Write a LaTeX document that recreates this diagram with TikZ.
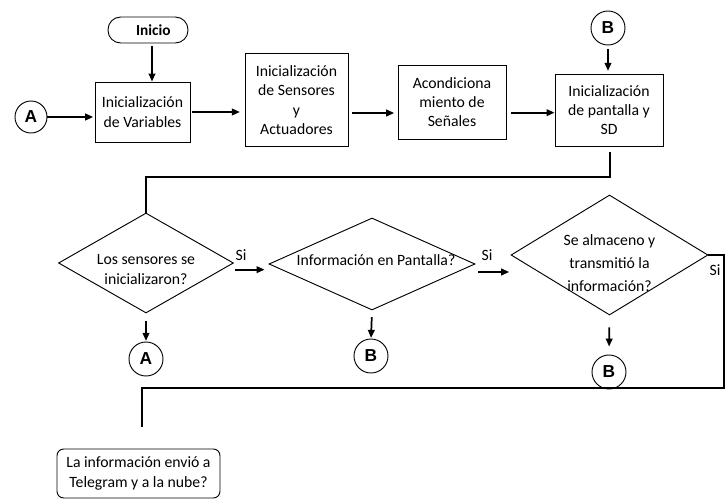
\documentclass[tikz,border=0pt]{standalone}
\usepackage{fontspec}
\setmainfont{Carlito}
\newfontfamily\connfont{Liberation Sans}
\usetikzlibrary{shapes.geometric,arrows.meta,positioning,calc}

\begin{document}
\begin{tikzpicture}[x=0.75pt, y=-0.75pt,
  font=\fontsize{11.8}{14.5}\selectfont,
  proc/.style={rectangle, draw, line width=0.7pt, align=center, inner sep=2pt},
  term/.style={rectangle, draw, rounded corners=9.5pt, line width=0.7pt, font=\fontsize{11.5}{14}\selectfont\bfseries},
  qbox/.style={rectangle, draw, rounded corners=5pt, line width=0.7pt, align=center},
  decision/.style={diamond, draw, line width=0.7pt, inner sep=0pt},
  conn/.style={circle, draw, line width=0.7pt, minimum size=#1, inner sep=0pt, font=\connfont\fontsize{13}{13}\selectfont\bfseries},
  arr/.style={-{Triangle[length=6pt,width=5pt]}, line width=1.3pt},
  line/.style={line width=1pt}
]
  \useasboundingbox (0,0) rectangle (726,500);
  % fila superior
  \node[term, minimum width=60pt, minimum height=19.5pt] (inicio) at (148,30) {\hspace*{8pt}Inicio};
  \node[proc, minimum width=71.25pt, minimum height=45pt] (vars) at (142.5,112) {Inicialización\\de Variables};
  \node[proc, minimum width=77.25pt, minimum height=69.75pt] (sens) at (296.5,100) {Inicialización\\de Sensores\\y\\Actuadores};
  \node[proc, minimum width=81pt, minimum height=55.5pt] (acond) at (452,102) {Acondiciona\\miento de\\Señales};
  \node[proc, minimum width=81pt, minimum height=54pt] (pant) at (609,110) {Inicialización\\de pantalla y\\SD};
  \node[conn=24pt] (a1) at (31,117) {A};
  \node[conn=25.5pt] (b1) at (608,28) {B};
  % decisiones
  \node[decision, minimum width=131.25pt, minimum height=75pt,
    label={[align=center, yshift=-5pt]center:{Los sensores se\\inicializaron?}}] (d1) at (146,263) {};
  \node[decision, minimum width=154.5pt, minimum height=69pt,
    label={[xshift=3pt, yshift=3pt]center:{Información en Pantalla?}}] (d2) at (372,264) {};
  \node[decision, minimum width=147.75pt, minimum height=90pt,
    label={[align=center, font=\fontsize{11.8}{17}\selectfont, yshift=-6pt]center:{Se almaceno y\\transmitió la\\información?}}] (d3) at (609.5,255) {};
  \node[conn=25.5pt] (a2) at (146,359) {A};
  \node[conn=25.5pt] (b2) at (371,356) {B};
  \node[conn=25.5pt] (b3) at (609,372) {B};
  \node (si1) at (241,255) {Si};
  \node (si2) at (487,255) {Si};
  \node (si3) at (715,270) {Si};
  \node[qbox, minimum width=122.25pt, minimum height=36.75pt] (tele) at (138.5,473.5) {La información envió a\\Telegram y a la nube?};
  \coordinate (j1) at (146,177);
  \coordinate (j2) at (724,388);
  \coordinate (fin) at (142,427);
  % conexiones
  \draw[arr, shorten <=2pt] ([xshift=3pt]inicio.south) -- ([xshift=3pt]inicio.south |- vars.north);
  \draw[arr, shorten >=1pt] (a1) -- (a1 -| vars.west);
  \draw[arr, shorten <=1.5pt, shorten >=3.5pt] (vars.east) -- (vars.east -| sens.west);
  \draw[arr, shorten <=3pt, shorten >=2.5pt] ([yshift=-9.75pt]sens.east) -- ([yshift=-9.75pt]sens.east -| acond.west);
  \draw[arr, shorten <=3.5pt] ([yshift=-8pt]acond.east) -- ([yshift=-8pt]acond.east -| pant.west);
  \draw[arr, shorten <=3pt, shorten >=2pt] (b1) -- (b1 |- pant.north);
  \draw[line] ([xshift=0.75pt, yshift=-4pt]pant.south) |- (j1) -- (d1.north);
  \draw[arr, shorten <=6pt, shorten >=0.5pt] (d1.south) -- (a2.north);
  \draw[arr, shorten <=5pt, shorten >=0.5pt] (d2.south) -- (b2.north);
  \draw[arr, shorten <=9pt, shorten >=6pt] (d3.south) -- (b3.north);
  \draw[arr, shorten <=1pt, shorten >=3pt] ([yshift=-5pt]d1.east) -- ([yshift=-5pt]d1.east -| d2.west);
  \draw[arr, shorten <=2pt, shorten >=1pt] ([yshift=-6pt]d2.east) -- ([yshift=-6pt]d2.east -| d3.west);
  \draw[line] (d3.east) -| (j2) -| (fin);
\end{tikzpicture}
\end{document}
